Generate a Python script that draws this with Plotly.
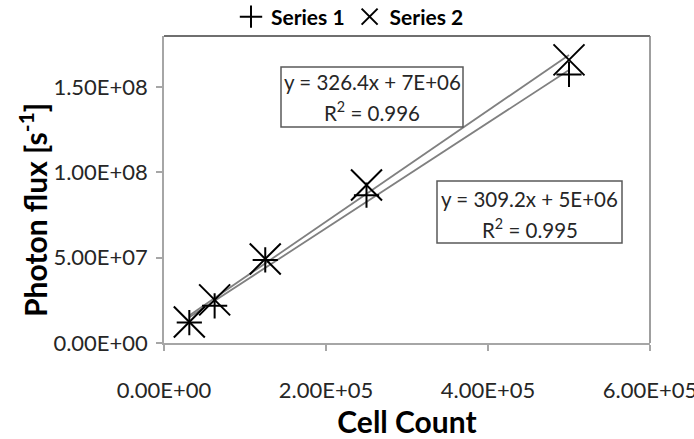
import numpy as np
import plotly.graph_objects as go

# ---- data ----
cell_count = [31250, 62500, 125000, 250000, 500000]
series1_flux = [1.20e7, 2.18e7, 4.87e7, 8.67e7, 1.575e8]
series2_flux = [1.23e7, 2.53e7, 4.93e7, 9.26e7, 1.66e8]
series_names = ["Series 1", "Series 2"]

eq1_text = ["y = 326.4x + 7E+06", "R<sup>2</sup> = 0.996"]
eq2_text = ["y = 309.2x + 5E+06", "R<sup>2</sup> = 0.995"]

x_tickvals = [0, 2e5, 4e5, 6e5]
x_ticktext = ["0.00E+00", "2.00E+05", "4.00E+05", "6.00E+05"]
y_tickvals = [0, 5e7, 1e8, 1.5e8]
y_ticktext = ["0.00E+00", "5.00E+07", "1.00E+08", "1.50E+08"]

FONT = "Lato"
TXT = "#262626"

fig = go.Figure()

# linear trendlines computed from the data
for ys in (series1_flux, series2_flux):
    k, b = np.polyfit(cell_count, ys, 1)
    xs = [min(cell_count), max(cell_count)]
    fig.add_trace(go.Scatter(
        x=xs, y=[k * v + b for v in xs], mode="lines",
        line=dict(color="#808080", width=1.8), showlegend=False, hoverinfo="skip"))

fig.add_trace(go.Scatter(
    x=cell_count, y=series1_flux, mode="markers", name=series_names[0],
    marker=dict(symbol="cross-thin", size=18, color="black",
                line=dict(color="black", width=2))))
fig.add_trace(go.Scatter(
    x=cell_count, y=series2_flux, mode="markers", name=series_names[1],
    marker=dict(symbol="x-thin", size=31, color="black",
                line=dict(color="black", width=2))))

# plot-area geometry in pixels
L, R, T, B = 164, 650, 36, 343
W, H = R - L, B - T
def px(x):
    return (x - L) / W
def py(y):
    return (B - y) / H

shapes = [
    dict(type="line", xref="paper", yref="paper", x0=0, x1=1, y0=1, y1=1,
         line=dict(color="#6f6f6f", width=2)),
    dict(type="line", xref="paper", yref="paper", x0=1, x1=1, y0=0, y1=1,
         line=dict(color="#7f7f7f", width=1.5)),
    dict(type="rect", xref="paper", yref="paper", x0=px(281), x1=px(463),
         y0=py(127), y1=py(67), line=dict(color="#595959", width=1.5),
         fillcolor="white", layer="above"),
    dict(type="rect", xref="paper", yref="paper", x0=px(437), x1=px(622),
         y0=py(243), y1=py(181), line=dict(color="#595959", width=1.5),
         fillcolor="white", layer="above"),
]

annotations = []
for txt, cy, cx in ((eq1_text[0], 81.7, 372), (eq1_text[1], 111.7, 372),
                    (eq2_text[0], 199.3, 529.5), (eq2_text[1], 228.3, 529.5)):
    annotations.append(dict(text=txt, xref="paper", yref="paper", x=px(cx), y=py(cy),
                            xanchor="center", yanchor="middle", showarrow=False,
                            font=dict(family=FONT, size=20.5, color=TXT)))
annotations.append(dict(text="Photon flux [s<sup>-1</sup>]", xref="paper", yref="paper",
                        x=px(33), y=py(210), xanchor="center", yanchor="middle",
                        textangle=-90, showarrow=False,
                        font=dict(family=FONT, size=30, color="black", weight="bold")))

fig.update_layout(
    width=694, height=439,
    margin=dict(l=L, r=694 - R, t=T, b=439 - B, autoexpand=False),
    paper_bgcolor="white", plot_bgcolor="white",
    font=dict(family=FONT, color=TXT),
    shapes=shapes, annotations=annotations,
    legend=dict(orientation="h", xref="container", yref="container",
                x=350 / 694, y=1 - 17 / 439, xanchor="center", yanchor="middle",
                font=dict(family=FONT, size=21, color="black", weight="bold"),
                itemwidth=30, bgcolor="rgba(0,0,0,0)"),
    xaxis=dict(range=[0, 6e5], tickvals=x_tickvals, ticktext=x_ticktext,
               automargin=False, ticklabeloverflow="allow",
               showgrid=False, zeroline=False, showline=True, linecolor="#a6a6a6",
               linewidth=1.5, ticks="outside", ticklen=6, tickcolor="#a6a6a6",
               tickwidth=1.5, ticklabelstandoff=21,
               tickfont=dict(family=FONT, size=22, color=TXT),
               title=dict(text="Cell Count", standoff=17,
                          font=dict(family=FONT, size=30, color="black", weight="bold"))),
    yaxis=dict(range=[0, 1.8e8], tickvals=y_tickvals, ticktext=y_ticktext,
               automargin=False,
               showgrid=False, zeroline=False, showline=True, linecolor="#a6a6a6",
               linewidth=1.5, ticks="outside", ticklen=6, tickcolor="#a6a6a6",
               tickwidth=1.5, ticklabelstandoff=4,
               tickfont=dict(family=FONT, size=22, color=TXT)),
)

fig.write_html("out.html", config={"displayModeBar": False},
               post_script="document.body.style.margin='0px';")
